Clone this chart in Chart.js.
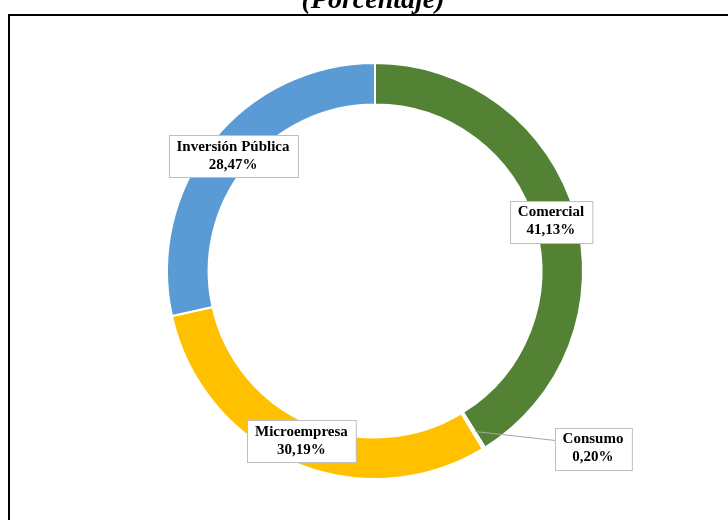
<!DOCTYPE html>
<html>
<head>
<meta charset="utf-8">
<script src="https://cdn.jsdelivr.net/npm/chart.js@4"></script>
<style>
  html, body { margin: 0; padding: 0; background: #fff; }
  #wrap { width: 728px; height: 520px; position: relative; }
</style>
</head>
<body>
<div id="wrap"><canvas id="myChart"></canvas></div>
<script>
const categories = ['Comercial', 'Consumo', 'Microempresa', 'Inversión Pública'];
const shares = [41.13, 0.20, 30.19, 28.47];
const sliceColors = ['#548235', '#E4E4E4', '#FFC000', '#5B9BD5'];

// label box offsets from the slice centre (only Consumo is pulled out)
const labelShift = [[-4, 2], [120, 18], [0, -2], [4, 2]];

const serif = '"Liberation Serif", "Times New Roman", serif';

const frame = {
    id: 'frame',
    beforeDraw(chart) {
        const ctx = chart.ctx;
        ctx.save();
        ctx.fillStyle = '#fff';
        ctx.fillRect(0, 0, chart.width, chart.height);
        ctx.strokeStyle = '#000';
        ctx.lineWidth = 2;
        ctx.beginPath();
        ctx.moveTo(9, chart.height);
        ctx.lineTo(9, 15);
        ctx.lineTo(chart.width, 15);
        ctx.stroke();
        ctx.fillStyle = '#000';
        ctx.font = 'italic bold 28px ' + serif;
        ctx.textAlign = 'center';
        ctx.textBaseline = 'alphabetic';
        ctx.fillText('(Porcentaje)', 373, 8);
        ctx.restore();
    }
};

const boxLabels = {
    id: 'boxLabels',
    afterDatasetsDraw(chart) {
        const ctx = chart.ctx;
        const arcs = chart.getDatasetMeta(0).data;
        ctx.save();
        ctx.font = 'bold 15px ' + serif;
        ctx.textAlign = 'center';
        ctx.textBaseline = 'middle';
        arcs.forEach((arc, i) => {
            const p = arc.getCenterPoint();
            const cx = p.x + labelShift[i][0];
            const cy = p.y + labelShift[i][1];
            const lines = [categories[i], shares[i].toFixed(2).replace('.', ',') + '%'];
            const w = Math.max(...lines.map(t => ctx.measureText(t).width)) + 16;
            const h = 42;
            const left = Math.round(cx - w / 2) + 0.5;
            const top = Math.round(cy - h / 2) + 0.5;
            if (labelShift[i][0] > 40) {
                ctx.strokeStyle = '#A6A6A6';
                ctx.lineWidth = 1;
                ctx.beginPath();
                ctx.moveTo(p.x + 2, p.y + 1);
                ctx.lineTo(left, cy - 8);
                ctx.stroke();
            }
            ctx.fillStyle = '#fff';
            ctx.fillRect(left, top, w, h);
            ctx.strokeStyle = '#BFBFBF';
            ctx.lineWidth = 1;
            ctx.strokeRect(left, top, w, h);
            ctx.fillStyle = '#000';
            ctx.fillText(lines[0], cx, cy - 9);
            ctx.fillText(lines[1], cx, cy + 9);
        });
        ctx.restore();
    }
};

const ctx = document.getElementById('myChart').getContext('2d');
new Chart(ctx, {
    type: 'doughnut',
    data: {
        labels: categories,
        datasets: [{
            data: shares,
            backgroundColor: sliceColors,
            borderColor: '#ffffff',
            borderWidth: 2
        }]
    },
    options: {
        responsive: true,
        maintainAspectRatio: false,
        animation: false,
        cutout: '80%',
        layout: { padding: { top: 62, bottom: 40, left: 100, right: 78 } },
        plugins: {
            legend: { display: false },
            tooltip: { enabled: false }
        }
    },
    plugins: [frame, boxLabels]
});
</script>
</body>
</html>
